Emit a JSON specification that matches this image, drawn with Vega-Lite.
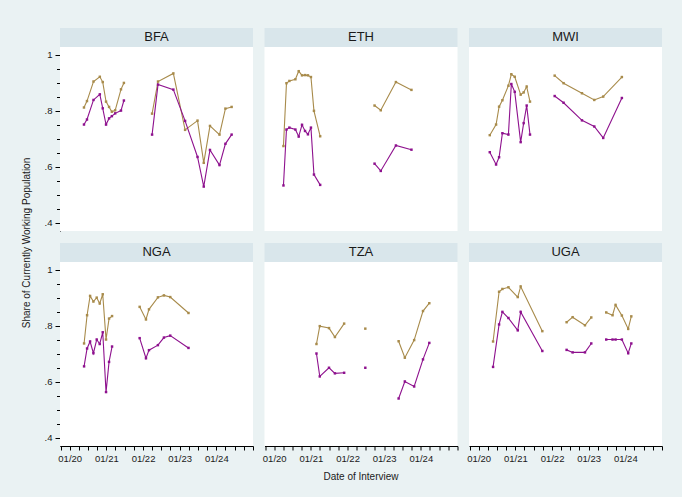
{
  "$schema": "https://vega.github.io/schema/vega-lite/v6.json",
  "background": "#eaf2f3",
  "padding": {"left": 22, "top": 27, "right": 19, "bottom": 15},
  "title": {
    "text": "Share of Currently Working Population",
    "orient": "left",
    "anchor": "middle",
    "font": "Liberation Sans",
    "fontSize": 10,
    "fontWeight": "normal",
    "color": "#1a1a1a",
    "offset": 12,
    "dx": 12
  },
  "data": {
    "values": [
      {"country": "BFA", "phase": 1, "date": "2020-05-22", "A": 0.812, "B": 0.751},
      {"country": "BFA", "phase": 1, "date": "2020-06-21", "A": 0.835, "B": 0.769},
      {"country": "BFA", "phase": 1, "date": "2020-08-25", "A": 0.905, "B": 0.839},
      {"country": "BFA", "phase": 1, "date": "2020-10-27", "A": 0.922, "B": 0.859},
      {"country": "BFA", "phase": 1, "date": "2020-11-25", "A": 0.903, "B": 0.809},
      {"country": "BFA", "phase": 1, "date": "2020-12-28", "A": 0.833, "B": 0.751},
      {"country": "BFA", "phase": 1, "date": "2021-01-27", "A": 0.814, "B": 0.773},
      {"country": "BFA", "phase": 1, "date": "2021-02-24", "A": 0.797, "B": 0.781},
      {"country": "BFA", "phase": 1, "date": "2021-03-29", "A": 0.802, "B": 0.791},
      {"country": "BFA", "phase": 1, "date": "2021-05-26", "A": 0.877, "B": 0.801},
      {"country": "BFA", "phase": 1, "date": "2021-06-24", "A": 0.900, "B": 0.837},
      {"country": "BFA", "phase": 2, "date": "2022-04-01", "A": 0.790, "B": 0.715},
      {"country": "BFA", "phase": 2, "date": "2022-05-30", "A": 0.905, "B": 0.894},
      {"country": "BFA", "phase": 2, "date": "2022-10-30", "A": 0.934, "B": 0.876},
      {"country": "BFA", "phase": 2, "date": "2023-02-24", "A": 0.732, "B": 0.764},
      {"country": "BFA", "phase": 2, "date": "2023-06-28", "A": 0.765, "B": 0.635},
      {"country": "BFA", "phase": 2, "date": "2023-08-29", "A": 0.614, "B": 0.529},
      {"country": "BFA", "phase": 2, "date": "2023-10-30", "A": 0.746, "B": 0.660},
      {"country": "BFA", "phase": 2, "date": "2024-02-02", "A": 0.715, "B": 0.606},
      {"country": "BFA", "phase": 2, "date": "2024-04-01", "A": 0.808, "B": 0.682},
      {"country": "BFA", "phase": 2, "date": "2024-06-02", "A": 0.814, "B": 0.715},

      {"country": "ETH", "phase": 1, "date": "2020-04-02", "A": 0.674, "B": 0.533},
      {"country": "ETH", "phase": 1, "date": "2020-05-02", "A": 0.899, "B": 0.733},
      {"country": "ETH", "phase": 1, "date": "2020-05-31", "A": 0.907, "B": 0.740},
      {"country": "ETH", "phase": 1, "date": "2020-07-30", "A": 0.913, "B": 0.733},
      {"country": "ETH", "phase": 1, "date": "2020-09-01", "A": 0.942, "B": 0.708},
      {"country": "ETH", "phase": 1, "date": "2020-10-04", "A": 0.927, "B": 0.750},
      {"country": "ETH", "phase": 1, "date": "2020-11-03", "A": 0.928, "B": 0.728},
      {"country": "ETH", "phase": 1, "date": "2020-12-02", "A": 0.927, "B": 0.716},
      {"country": "ETH", "phase": 1, "date": "2021-01-01", "A": 0.921, "B": 0.740},
      {"country": "ETH", "phase": 1, "date": "2021-01-31", "A": 0.800, "B": 0.572},
      {"country": "ETH", "phase": 1, "date": "2021-04-03", "A": 0.709, "B": 0.535},
      {"country": "ETH", "phase": 2, "date": "2022-09-27", "A": 0.819, "B": 0.611},
      {"country": "ETH", "phase": 2, "date": "2022-11-28", "A": 0.802, "B": 0.585},
      {"country": "ETH", "phase": 2, "date": "2023-04-28", "A": 0.903, "B": 0.676},
      {"country": "ETH", "phase": 2, "date": "2023-09-30", "A": 0.875, "B": 0.661},

      {"country": "MWI", "phase": 1, "date": "2020-04-20", "A": 0.713, "B": 0.652},
      {"country": "MWI", "phase": 1, "date": "2020-06-22", "A": 0.751, "B": 0.608},
      {"country": "MWI", "phase": 1, "date": "2020-07-22", "A": 0.815, "B": 0.634},
      {"country": "MWI", "phase": 1, "date": "2020-08-24", "A": 0.838, "B": 0.720},
      {"country": "MWI", "phase": 1, "date": "2020-10-23", "A": 0.890, "B": 0.715},
      {"country": "MWI", "phase": 1, "date": "2020-11-21", "A": 0.931, "B": 0.896},
      {"country": "MWI", "phase": 1, "date": "2020-12-25", "A": 0.922, "B": 0.868},
      {"country": "MWI", "phase": 1, "date": "2021-02-22", "A": 0.858, "B": 0.688},
      {"country": "MWI", "phase": 1, "date": "2021-03-24", "A": 0.866, "B": 0.756},
      {"country": "MWI", "phase": 1, "date": "2021-04-23", "A": 0.887, "B": 0.819},
      {"country": "MWI", "phase": 1, "date": "2021-05-26", "A": 0.833, "B": 0.715},
      {"country": "MWI", "phase": 2, "date": "2022-01-27", "A": 0.926, "B": 0.853},
      {"country": "MWI", "phase": 2, "date": "2022-04-26", "A": 0.899, "B": 0.829},
      {"country": "MWI", "phase": 2, "date": "2022-10-26", "A": 0.863, "B": 0.766},
      {"country": "MWI", "phase": 2, "date": "2023-02-26", "A": 0.839, "B": 0.744},
      {"country": "MWI", "phase": 2, "date": "2023-05-26", "A": 0.851, "B": 0.703},
      {"country": "MWI", "phase": 2, "date": "2023-11-28", "A": 0.921, "B": 0.846},

      {"country": "NGA", "phase": 1, "date": "2020-05-23", "A": 0.737, "B": 0.655},
      {"country": "NGA", "phase": 1, "date": "2020-06-22", "A": 0.838, "B": 0.719},
      {"country": "NGA", "phase": 1, "date": "2020-07-22", "A": 0.907, "B": 0.744},
      {"country": "NGA", "phase": 1, "date": "2020-08-24", "A": 0.887, "B": 0.702},
      {"country": "NGA", "phase": 1, "date": "2020-09-26", "A": 0.901, "B": 0.751},
      {"country": "NGA", "phase": 1, "date": "2020-10-26", "A": 0.880, "B": 0.735},
      {"country": "NGA", "phase": 1, "date": "2020-11-25", "A": 0.913, "B": 0.777},
      {"country": "NGA", "phase": 1, "date": "2020-12-28", "A": 0.751, "B": 0.563},
      {"country": "NGA", "phase": 1, "date": "2021-01-27", "A": 0.826, "B": 0.671},
      {"country": "NGA", "phase": 1, "date": "2021-02-26", "A": 0.835, "B": 0.726},
      {"country": "NGA", "phase": 2, "date": "2021-11-28", "A": 0.868, "B": 0.756},
      {"country": "NGA", "phase": 2, "date": "2022-01-30", "A": 0.823, "B": 0.684},
      {"country": "NGA", "phase": 2, "date": "2022-03-01", "A": 0.859, "B": 0.713},
      {"country": "NGA", "phase": 2, "date": "2022-05-29", "A": 0.902, "B": 0.731},
      {"country": "NGA", "phase": 2, "date": "2022-07-28", "A": 0.909, "B": 0.758},
      {"country": "NGA", "phase": 2, "date": "2022-09-29", "A": 0.903, "B": 0.765},
      {"country": "NGA", "phase": 2, "date": "2023-03-30", "A": 0.846, "B": 0.721},

      {"country": "TZA", "phase": 1, "date": "2021-02-25", "A": 0.735, "B": 0.701},
      {"country": "TZA", "phase": 1, "date": "2021-03-30", "A": 0.799, "B": 0.619},
      {"country": "TZA", "phase": 1, "date": "2021-06-30", "A": 0.792, "B": 0.650},
      {"country": "TZA", "phase": 1, "date": "2021-08-28", "A": 0.760, "B": 0.630},
      {"country": "TZA", "phase": 1, "date": "2021-11-28", "A": 0.808, "B": 0.632},
      {"country": "TZA", "phase": 2, "date": "2022-06-27", "A": 0.790, "B": 0.650},
      {"country": "TZA", "phase": 3, "date": "2023-05-25", "A": 0.745, "B": 0.540},
      {"country": "TZA", "phase": 3, "date": "2023-07-26", "A": 0.686, "B": 0.601},
      {"country": "TZA", "phase": 3, "date": "2023-10-27", "A": 0.749, "B": 0.583},
      {"country": "TZA", "phase": 3, "date": "2024-01-23", "A": 0.853, "B": 0.680},
      {"country": "TZA", "phase": 3, "date": "2024-03-26", "A": 0.881, "B": 0.739},

      {"country": "UGA", "phase": 1, "date": "2020-05-23", "A": 0.744, "B": 0.653},
      {"country": "UGA", "phase": 1, "date": "2020-07-22", "A": 0.922, "B": 0.805},
      {"country": "UGA", "phase": 1, "date": "2020-08-24", "A": 0.932, "B": 0.850},
      {"country": "UGA", "phase": 1, "date": "2020-10-23", "A": 0.938, "B": 0.828},
      {"country": "UGA", "phase": 1, "date": "2021-01-24", "A": 0.903, "B": 0.784},
      {"country": "UGA", "phase": 1, "date": "2021-02-22", "A": 0.941, "B": 0.850},
      {"country": "UGA", "phase": 1, "date": "2021-09-26", "A": 0.781, "B": 0.710},
      {"country": "UGA", "phase": 2, "date": "2022-05-26", "A": 0.813, "B": 0.714},
      {"country": "UGA", "phase": 2, "date": "2022-07-25", "A": 0.831, "B": 0.705},
      {"country": "UGA", "phase": 2, "date": "2022-11-25", "A": 0.802, "B": 0.705},
      {"country": "UGA", "phase": 2, "date": "2023-01-27", "A": 0.830, "B": 0.737},
      {"country": "UGA", "phase": 3, "date": "2023-06-25", "A": 0.848, "B": 0.751},
      {"country": "UGA", "phase": 3, "date": "2023-08-27", "A": 0.838, "B": 0.751},
      {"country": "UGA", "phase": 3, "date": "2023-09-26", "A": 0.875, "B": 0.751},
      {"country": "UGA", "phase": 3, "date": "2023-11-28", "A": 0.837, "B": 0.751},
      {"country": "UGA", "phase": 3, "date": "2024-01-30", "A": 0.789, "B": 0.702},
      {"country": "UGA", "phase": 3, "date": "2024-03-01", "A": 0.834, "B": 0.737}
    ]
  },
  "transform": [{"fold": ["A", "B"], "as": ["series", "value"]}],
  "facet": {
    "field": "country",
    "type": "nominal",
    "title": "Date of Interview",
    "header": {
      "labels": false,
      "labelExpr": "''",
      "labelPadding": 0,
      "labelFontSize": 0,
      "titleOrient": "bottom",
      "titleFont": "Liberation Sans",
      "titleFontSize": 10,
      "titleFontWeight": "normal",
      "titleColor": "#1a1a1a",
      "titlePadding": 9
    }
  },
  "columns": 3,
  "spacing": {"row": 11, "column": 11.5},
  "spec": {
    "width": 193,
    "height": 184,
    "layer": [
      {
        "transform": [{"aggregate": [{"op": "count", "as": "n"}], "groupby": ["country"]}],
        "mark": {"type": "rect", "color": "#d9e6eb"},
        "encoding": {
          "x": {"datum": {"year": 2019, "month": 9, "date": 26, "utc": true}, "type": "temporal", "title": null},
          "x2": {"datum": {"year": 2025, "month": 1, "date": 1, "utc": true}},
          "y": {"datum": 1.0285, "type": "quantitative", "title": null},
          "y2": {"datum": 1.0965}
        }
      },
      {
        "transform": [{"aggregate": [{"op": "count", "as": "n"}], "groupby": ["country"]}],
        "mark": {"type": "text", "font": "Liberation Sans", "fontSize": 13, "color": "#1a1a1a", "align": "center", "baseline": "middle"},
        "encoding": {
          "x": {"datum": {"year": 2022, "month": 5, "date": 15, "utc": true}, "type": "temporal", "title": null},
          "y": {"datum": 1.0625, "type": "quantitative", "title": null},
          "text": {"field": "country", "type": "nominal"}
        }
      },
      {
        "mark": {"type": "line", "strokeWidth": 1.1},
        "encoding": {
          "x": {"field": "date", "type": "temporal", "title": null},
          "y": {"field": "value", "type": "quantitative", "title": null},
          "color": {"field": "series", "type": "nominal", "legend": null,
                    "scale": {"domain": ["A", "B"], "range": ["#a88b4b", "#8e118e"]}},
          "detail": {"field": "phase", "type": "nominal"}
        }
      },
      {
        "mark": {"type": "point", "shape": "square", "filled": true, "size": 6, "opacity": 1},
        "encoding": {
          "x": {
            "field": "date", "type": "temporal", "title": null,
            "scale": {"type": "utc", "nice": false,
                      "domain": [{"year": 2019, "month": 9, "date": 26, "utc": true}, {"year": 2025, "month": 1, "date": 1, "utc": true}]},
            "axis": {
              "values": [
                {"year": 2019, "month": 10, "date": 1, "utc": true},
                {"year": 2020, "month": 1, "date": 1, "utc": true},
                {"year": 2020, "month": 4, "date": 1, "utc": true},
                {"year": 2020, "month": 7, "date": 1, "utc": true},
                {"year": 2020, "month": 10, "date": 1, "utc": true},
                {"year": 2021, "month": 1, "date": 1, "utc": true},
                {"year": 2021, "month": 4, "date": 1, "utc": true},
                {"year": 2021, "month": 7, "date": 1, "utc": true},
                {"year": 2021, "month": 10, "date": 1, "utc": true},
                {"year": 2022, "month": 1, "date": 1, "utc": true},
                {"year": 2022, "month": 4, "date": 1, "utc": true},
                {"year": 2022, "month": 7, "date": 1, "utc": true},
                {"year": 2022, "month": 10, "date": 1, "utc": true},
                {"year": 2023, "month": 1, "date": 1, "utc": true},
                {"year": 2023, "month": 4, "date": 1, "utc": true},
                {"year": 2023, "month": 7, "date": 1, "utc": true},
                {"year": 2023, "month": 10, "date": 1, "utc": true},
                {"year": 2024, "month": 1, "date": 1, "utc": true},
                {"year": 2024, "month": 4, "date": 1, "utc": true},
                {"year": 2024, "month": 7, "date": 1, "utc": true},
                {"year": 2024, "month": 10, "date": 1, "utc": true},
                {"year": 2025, "month": 1, "date": 1, "utc": true}
              ],
              "tickCount": 60,
              "labelExpr": "utcmonth(datum.value) == 0 && utcyear(datum.value) <= 2024 ? utcFormat(datum.value, '%m/%y') : ''",
              "labelOverlap": false,
              "labelFlush": false,
              "tickSize": 4,
              "labelPadding": 3,
              "gridOpacity": {"condition": {"test": "utcmonth(datum.value) == 0 && utcyear(datum.value) >= 2021 && utcyear(datum.value) <= 2024", "value": 1}, "value": 0}
            }
          },
          "y": {
            "field": "value", "type": "quantitative", "title": null,
            "scale": {"domain": [0.37, 1.0285], "nice": false, "zero": false},
            "axis": {
              "values": [0.4, 0.45, 0.5, 0.55, 0.6, 0.65, 0.7, 0.75, 0.8, 0.85, 0.9, 0.95, 1.0],
              "tickCount": 60,
              "labelExpr": "abs(datum.value * 5 - round(datum.value * 5)) < 0.01 ? (datum.value > 0.999 ? '1' : replace(format(datum.value, '.1f'), '0.', '.')) : ''",
              "labelOverlap": false,
              "labelFlush": false,
              "labelPadding": 3,
              "tickSize": {"condition": {"test": "abs(datum.value * 5 - round(datum.value * 5)) < 0.01", "value": 5}, "value": 3.5},
              "gridOpacity": {"condition": {"test": "abs(datum.value * 5 - round(datum.value * 5)) < 0.01", "value": 1}, "value": 0}
            }
          },
          "color": {"field": "series", "type": "nominal", "legend": null,
                    "scale": {"domain": ["A", "B"], "range": ["#a88b4b", "#8e118e"]}}
        }
      }
    ]
  },
  "config": {
    "font": "Liberation Sans",
    "view": {"stroke": null, "fill": "white"},
    "header": {"labels": false},
    "headerFacet": {"labels": false},
    "axis": {
      "domainColor": "#000000",
      "domainWidth": 1,
      "tickColor": "#000000",
      "tickWidth": 1,
      "labelFont": "Liberation Sans",
      "labelFontSize": 9.5,
      "labelColor": "#1a1a1a",
      "gridColor": "#eaf2f3",
      "gridWidth": 1
    }
  }
}
